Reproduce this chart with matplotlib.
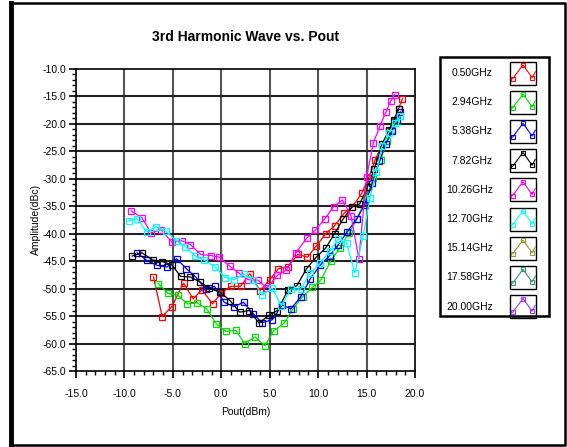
import numpy as np
import matplotlib
matplotlib.use("Agg")
import matplotlib.pyplot as plt
from matplotlib.patches import Rectangle
from matplotlib.ticker import MultipleLocator, FormatStrFormatter

plt.rcParams["font.family"] = ["Liberation Sans Narrow", "Liberation Sans", "DejaVu Sans"]
plt.rcParams["axes.unicode_minus"] = False

# ---- data (Pout dBm, amplitude dBc) ----
labels = ["0.50GHz", "2.94GHz", "5.38GHz", "7.82GHz", "10.26GHz",
          "12.70GHz", "15.14GHz", "17.58GHz", "20.00GHz"]
colors = ["#ff0000", "#00e000", "#0000ff", "#000000", "#ff00ff",
          "#00ffff", "#999933", "#339966", "#9933ff"]

x_050 = [-7.0, -6.1, -5.1, -3.9, -2.9, -2.0, -0.9, 0.0, 1.0, 2.0, 2.95, 4.0, 5.0,
         5.9, 6.9, 7.9, 8.9, 9.8, 10.8, 11.7, 12.7, 13.5, 14.5, 15.2, 15.9, 16.6,
         17.3, 17.9, 18.3, 18.7]
y_050 = [-47.9, -55.1, -53.3, -49.0, -51.9, -50.2, -52.8, -50.8, -49.6, -49.6, -47.3,
         -50.4, -48.4, -46.4, -46.0, -43.8, -44.3, -42.3, -40.0, -38.6, -36.3, -35.2,
         -32.7, -29.9, -26.6, -23.8, -21.4, -19.6, -17.3, -15.5]

x_294 = [-6.5, -5.5, -4.5, -3.5, -2.5, -1.5, -0.5, 0.5, 1.5, 2.4, 3.5, 4.5, 5.4,
         6.5, 7.4, 8.4, 9.4, 10.3, 11.3, 12.25, 13.2, 14.0, 14.9, 15.7, 16.45, 17.1,
         17.65, 18.1, 18.5]
y_294 = [-49.1, -50.9, -51.2, -52.8, -52.6, -53.7, -56.5, -57.8, -57.6, -60.0, -58.8,
         -60.4, -57.7, -56.3, -53.7, -51.5, -49.8, -48.4, -45.0, -42.6, -39.9, -37.4,
         -33.8, -29.9, -26.6, -23.2, -21.1, -19.6, -18.7]

x_538 = [-8.7, -7.7, -6.6, -5.6, -4.6, -3.6, -2.7, -1.6, -0.7, 0.3, 1.3, 2.3, 3.3,
         4.2, 5.25, 6.3, 7.2, 8.2, 9.2, 10.2, 11.2, 12.1, 13.0, 14.0, 14.8, 15.6,
         16.3, 17.0, 17.6, 18.1, 18.5]
y_538 = [-43.5, -44.9, -45.8, -46.1, -44.6, -46.4, -47.8, -50.1, -49.6, -52.5, -53.3,
         -52.5, -54.6, -56.2, -55.7, -53.0, -53.7, -51.5, -48.2, -45.8, -44.0, -42.0,
         -39.7, -37.3, -34.8, -30.9, -26.9, -23.7, -21.4, -19.3, -17.9]

x_782 = [-9.2, -8.2, -7.1, -6.1, -5.1, -4.2, -3.2, -2.2, -1.3, -0.1, 0.9, 1.9, 2.9,
         3.9, 4.9, 5.8, 6.9, 7.8, 8.8, 9.8, 10.8, 11.7, 12.6, 13.5, 14.3, 15.1, 15.8,
         16.6, 17.3, 17.8, 18.3]
y_782 = [-44.1, -43.5, -44.8, -45.1, -45.7, -47.8, -47.9, -48.8, -49.9, -50.7, -52.2,
         -54.3, -54.0, -56.3, -54.9, -54.0, -50.2, -49.5, -46.4, -44.3, -42.6, -40.0,
         -37.3, -35.2, -34.6, -31.5, -28.2, -23.8, -21.2, -19.4, -17.3]

x_1026 = [-9.3, -8.2, -7.25, -6.2, -5.1, -4.1, -3.2, -2.15, -1.1, -0.2, 0.85, 1.8,
          2.8, 3.8, 4.7, 5.8, 6.7, 7.7, 8.8, 9.7, 10.7, 11.6, 12.5, 13.4, 14.2, 15.0,
          15.7, 16.4, 17.0, 17.5, 17.9]
y_1026 = [-35.9, -37.1, -39.9, -39.3, -41.6, -41.3, -42.0, -43.8, -44.0, -44.3, -45.9,
          -47.2, -48.4, -48.5, -49.9, -47.6, -46.7, -43.5, -40.9, -39.4, -37.3, -35.1,
          -33.9, -36.8, -44.6, -29.8, -23.5, -20.4, -17.9, -15.9, -14.8]

x_1270 = [-9.55, -8.7, -7.7, -6.7, -5.7, -4.6, -3.7, -2.7, -1.8, -0.7, 0.4, 1.3, 2.3,
          3.3, 4.2, 5.25, 6.2, 7.2, 8.2, 9.2, 10.2, 11.2, 12.1, 12.95, 13.8, 14.65,
          15.35, 16.0, 16.6, 17.3, 17.9, 18.5]
y_1270 = [-37.7, -37.3, -39.7, -38.8, -39.6, -41.4, -42.4, -44.1, -44.8, -46.0, -48.0,
          -48.4, -47.4, -48.5, -51.2, -49.9, -53.1, -50.1, -50.1, -47.2, -45.4, -43.2,
          -41.0, -41.8, -47.2, -40.4, -33.5, -28.9, -24.1, -21.7, -19.9, -18.7]

x_1514, y_1514 = [], []
x_1758, y_1758 = [], []
x_2000, y_2000 = [], []

series_x = [x_050, x_294, x_538, x_782, x_1026, x_1270, x_1514, x_1758, x_2000]
series_y = [y_050, y_294, y_538, y_782, y_1026, y_1270, y_1514, y_1758, y_2000]

# legend icon shape (box-relative)
ICON_X = [0.1, 0.5, 0.85, 0.97]
ICON_Y = [0.25, 0.85, 0.3, 0.55]

W, H = 567, 447
fig = plt.figure(figsize=(W / 100, H / 100), dpi=100)


def px_axes(l, t, r, b):
    return [l / W, 1 - b / H, (r - l) / W, (b - t) / H]


ax = fig.add_axes(px_axes(76, 68.5, 415, 371))
ax.set_xlim(-15, 20)
ax.set_ylim(-65, -10)

ax.xaxis.set_major_locator(MultipleLocator(5))
ax.xaxis.set_minor_locator(MultipleLocator(1))
ax.yaxis.set_major_locator(MultipleLocator(5))
ax.yaxis.set_minor_locator(MultipleLocator(1))
ax.xaxis.set_major_formatter(FormatStrFormatter("%.1f"))
ax.yaxis.set_major_formatter(FormatStrFormatter("%.1f"))
ax.tick_params(axis="both", which="major", labelsize=7.5, width=1.2, length=5, pad=2)
ax.tick_params(axis="both", which="minor", width=1.0, length=3)
ax.tick_params(axis="x", which="major", pad=8)

for v in range(-10, 20, 5):
    ax.axvline(v, color="#555555", lw=1.5, zorder=1)
for v in range(-60, -10, 5):
    ax.axhline(v, color="#222222", lw=1.5, zorder=1)
for s in ax.spines.values():
    s.set_linewidth(1.2)

for xs, ys, c in zip(series_x, series_y, colors):
    ax.plot(xs, ys, color=c, lw=0.9, marker="s", ms=4.4, mfc="none",
            mec=c, mew=0.9, zorder=3)

ax.set_title("3rd Harmonic Wave vs. Pout", fontsize=10, fontweight="semibold", pad=20)
ax.set_xlabel("Pout(dBm)", fontsize=7.5, labelpad=6)
ax.set_ylabel("Amplitude(dBc)", fontsize=7.5, labelpad=1)

# overlay in pixel coordinates: outer frame and legend
ov = fig.add_axes([0, 0, 1, 1], facecolor="none")
ov.set_xlim(0, W)
ov.set_ylim(H, 0)
ov.axis("off")
ov.plot([11, 11], [3, 445], color="black", lw=3.5)
ov.plot([10, 565, 565, 10], [3, 3, 445, 445], color="black", lw=1.8)

ov.add_patch(Rectangle((440, 57), 109, 259, fill=False, ec="black", lw=1.8))
for i, (lab, c) in enumerate(zip(labels, colors)):
    yc = 73 + i * 29.2
    ov.text(493, yc, lab, ha="right", va="center", fontsize=7.5)
    bx, by, bw, bh = 510, yc - 11.5, 26, 23
    ov.add_patch(Rectangle((bx, by), bw, bh, fill=False, ec="black", lw=1.0))
    ix = [bx + u * bw for u in ICON_X]
    iy = [by + bh - v * bh for v in ICON_Y]
    ov.plot(ix, iy, color=c, lw=0.8)
    ov.plot(ix[:3], iy[:3], ls="none", marker="s", ms=3.5, mfc="none", mec=c, mew=0.8)

fig.savefig("out.png", dpi=100)
